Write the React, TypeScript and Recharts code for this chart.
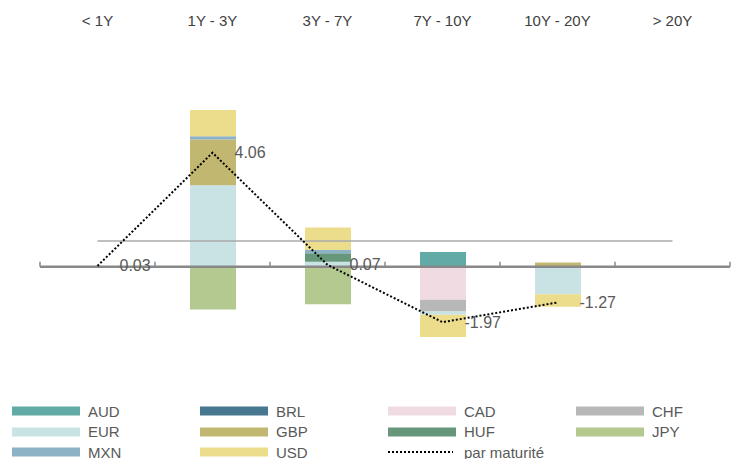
import React from 'react'
import { ComposedChart, Bar, Line, XAxis, YAxis, ReferenceLine, LabelList } from 'recharts'

const categories = ['< 1Y', '1Y - 3Y', '3Y - 7Y', '7Y - 10Y', '10Y - 20Y', '> 20Y']

const AUD = [0, 0, 0, 0.53, 0, 0]
const BRL = [0, 0, 0.04, 0, 0, 0]
const CAD = [0, 0, 0, -1.17, 0, 0]
const CHF = [0, 0, 0, -0.42, 0, 0]
const EUR = [0.03, 2.9, 0.14, -0.12, -0.98, 0]
const GBP = [0, 1.63, 0, 0, 0.15, 0]
const HUF = [0, 0, 0.3, 0, 0, 0]
const JPY = [0, -1.52, -1.33, 0, 0, 0]
const MXN = [0, 0.12, 0.12, 0, 0, 0]
const USD = [0, 0.93, 0.8, -0.79, -0.44, 0]
const parMaturite = [0.03, 4.06, 0.07, -1.97, -1.27, null]

const totalGeneral = 0.92

const SERIES = [
  { key: 'AUD', values: AUD, color: '#62aaa6' },
  { key: 'BRL', values: BRL, color: '#47788f' },
  { key: 'CAD', values: CAD, color: '#f1dbe2' },
  { key: 'CHF', values: CHF, color: '#b8b8b8' },
  { key: 'EUR', values: EUR, color: '#c9e3e4' },
  { key: 'GBP', values: GBP, color: '#c2b771' },
  { key: 'HUF', values: HUF, color: '#66977a' },
  { key: 'JPY', values: JPY, color: '#b3c98f' },
  { key: 'MXN', values: MXN, color: '#8cb2c5' },
  { key: 'USD', values: USD, color: '#ebdd8c' },
]

const data = categories.map((c, i) => {
  const row: Record<string, any> = { cat: c, total: parMaturite[i] }
  SERIES.forEach((s) => {
    row[s.key] = s.values[i]
  })
  return row
})

const FONT = '"Liberation Sans", Arial, sans-serif'

// zero line with small upward ticks at the category boundaries
const ZeroAxis = (props: any) => {
  const { x1, x2, y1 } = props
  const n = categories.length
  const ticks = []
  for (let i = 0; i <= n; i++) {
    const x = x1 + ((x2 - x1) * i) / n
    ticks.push(<line key={i} x1={x} x2={x} y1={y1 - 5} y2={y1} stroke="#888" strokeWidth={1.5} />)
  }
  return (
    <g>
      <line x1={x1} x2={x2} y1={y1} y2={y1} stroke="#888" strokeWidth={2.5} />
      {ticks}
    </g>
  )
}

const ValueLabel = (props: any) => {
  const { x, y, value } = props
  if (value == null) return null
  return (
    <text x={x + 22} y={y} dy={5.5} fontSize={16} fill="#595959" fontFamily={FONT}>
      {Number(value).toFixed(2)}
    </text>
  )
}

const Legend = () => {
  const items = [
    ...SERIES.map((s) => ({ label: s.key, color: s.color, dotted: false })),
    { label: 'par maturité', color: '#000', dotted: true },
  ]
  return (
    <>
      {items.map((it, i) => {
        const col = i % 4
        const row = Math.floor(i / 4)
        const left = 4 + col * 188
        const top = 403 + row * 20.5
        return (
          <div
            key={it.label}
            style={{
              position: 'absolute',
              left,
              top: top - 10,
              height: 20,
              display: 'flex',
              alignItems: 'center',
              fontFamily: FONT,
              fontSize: 15,
              color: '#595959',
            }}
          >
            <svg width={76} height={20}>
              {it.dotted ? (
                <line x1={0} x2={65} y1={10} y2={10} stroke="#000" strokeWidth={2} strokeDasharray="2 2" />
              ) : (
                <rect x={0} y={5.5} width={68} height={9} fill={it.color} />
              )}
            </svg>
            <span>{it.label}</span>
          </div>
        )
      })}
    </>
  )
}

export default function App() {
  return (
    <div style={{ position: 'relative', width: 723, height: 451 }}>
      <ComposedChart
        width={723}
        height={380}
        data={data}
        stackOffset="sign"
        margin={{ top: 4, right: 1, bottom: 8.8, left: 32 }}
      >
        <XAxis
          dataKey="cat"
          orientation="top"
          height={30}
          axisLine={false}
          tickLine={false}
          tickSize={0}
          tickMargin={16}
          interval={0}
          tick={{ fill: '#404040', fontSize: 15, fontFamily: FONT }}
        />
        <YAxis hide domain={[-4, 8]} type="number" />
        {SERIES.map((s) => (
          <Bar key={s.key} dataKey={s.key} stackId="a" fill={s.color} barSize={46} isAnimationActive={false} />
        ))}
        <ReferenceLine
          segment={[
            { x: categories[0], y: totalGeneral },
            { x: categories[categories.length - 1], y: totalGeneral },
          ]}
          stroke="#aaa"
          strokeWidth={1.5}
        />
        <ReferenceLine y={0} shape={ZeroAxis} />
        <Line
          dataKey="total"
          stroke="#000"
          strokeWidth={2}
          strokeDasharray="2 2"
          dot={false}
          activeDot={false}
          isAnimationActive={false}
        >
          <LabelList dataKey="total" content={ValueLabel} />
        </Line>
      </ComposedChart>
      <Legend />
    </div>
  )
}
